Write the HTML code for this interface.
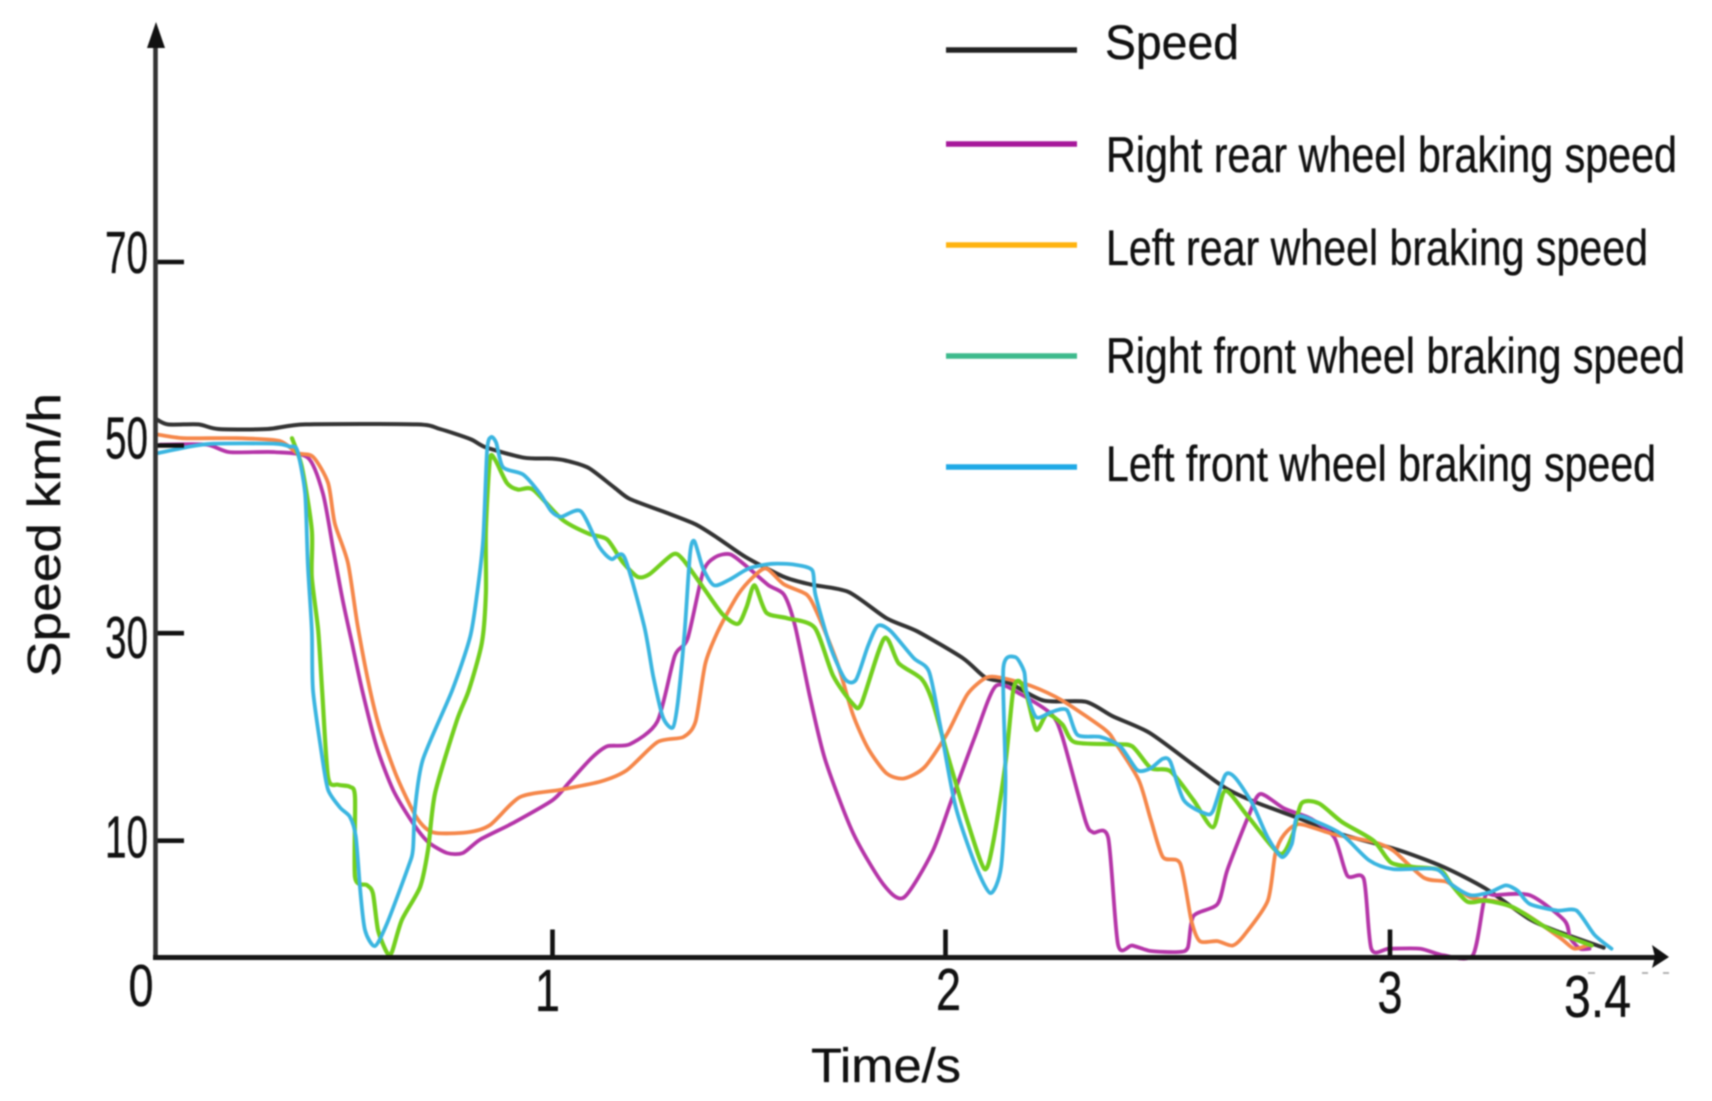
<!DOCTYPE html>
<html lang="en">
<head>
<meta charset="utf-8">
<title>Speed and wheel braking speed over time</title>
<style>
html,body{margin:0;padding:0;background:#fff;width:1712px;height:1101px;overflow:hidden}
svg{display:block;filter:blur(0.75px)}
text{font-family:"Liberation Sans",Arial,sans-serif;fill:#111;stroke:#111;stroke-width:.35px}
</style>
</head>
<body>
<svg id="chart" xmlns="http://www.w3.org/2000/svg" width="1712" height="1101" viewBox="0 0 1712 1101">
  <rect x="0" y="0" width="1712" height="1101" fill="#fff"/>
  <g id="series" fill="none" stroke-linejoin="round" stroke-linecap="round"></g>
  <g id="axes"></g>
  <line x1="155.5" y1="960" x2="155.5" y2="40" stroke="#333" stroke-width="4.6"/>
  <polygon points="156,22 147,48 165,48" fill="#111"/>
  <line x1="153" y1="957.5" x2="1655" y2="957.5" stroke="#161616" stroke-width="5"/>
  <polygon points="1669,957 1652,945 1655,957 1652,968" fill="#111"/>
  <g stroke="#aaa" stroke-width="1.8">
    <line x1="1588" y1="973" x2="1595" y2="973"/>
    <line x1="1642" y1="973" x2="1648" y2="973"/>
    <line x1="1663" y1="973" x2="1669" y2="973"/>
  </g>
  <text transform="translate(60,677) rotate(-90)" font-size="46" textLength="284" lengthAdjust="spacingAndGlyphs">Speed km/h</text>
  <text x="811" y="1082" font-size="48" textLength="150" lengthAdjust="spacingAndGlyphs">Time/s</text>
  <g>
    <g>
      <line x1="946" y1="50" x2="1077" y2="50" stroke="#222" stroke-width="5.5"/>
      <text x="1105" y="59" font-size="48" textLength="134" lengthAdjust="spacingAndGlyphs">Speed</text>
    </g>
    <g>
      <line x1="946" y1="144" x2="1077" y2="144" stroke="#a6189a" stroke-width="5.5"/>
      <text x="1106" y="172" font-size="50" textLength="571" lengthAdjust="spacingAndGlyphs">Right rear wheel braking speed</text>
    </g>
    <g>
      <line x1="946" y1="245" x2="1077" y2="245" stroke="#ffb30f" stroke-width="5.5"/>
      <text x="1106" y="265" font-size="50" textLength="542" lengthAdjust="spacingAndGlyphs">Left rear wheel braking speed</text>
    </g>
    <g>
      <line x1="946" y1="356" x2="1077" y2="356" stroke="#3dba8c" stroke-width="5.5"/>
      <text x="1106" y="373" font-size="50" textLength="579" lengthAdjust="spacingAndGlyphs">Right front wheel braking speed</text>
    </g>
    <g>
      <line x1="946" y1="467" x2="1077" y2="467" stroke="#1fa9e6" stroke-width="5.5"/>
      <text x="1106" y="481" font-size="50" textLength="550" lengthAdjust="spacingAndGlyphs">Left front wheel braking speed</text>
    </g>
  </g>
</svg>
<script>
const xTickValues = [1, 2, 3];
const yTickValues = [10, 30, 50, 70];
const xLabelValues = [0, 1, 2, 3, 3.4];
const xLabelText = ['0', '1', '2', '3', '3.4'];
const yLabelText = ['10', '30', '50', '70'];

const speedT = [0,.03,.107,.157,.281,.377,.658,.716,.793,.832,.928,.997,1.033,1.092,1.158,1.197,1.286,1.364,1.422,1.492,1.589,1.656,1.753,1.85,1.928,2.039,2.091,2.143,2.221,2.315,2.376,2.459,2.558,2.629,2.698,2.786,2.892,3.013,3.102,3.183,3.267,3.325,3.408];
const speedV = [52.9,52.3,52.3,51.8,51.8,52.3,52.3,51.8,50.7,49.8,48.7,48.6,48.4,47.6,45.5,44.3,42.9,41.6,40.1,38.1,36.0,35.2,34.4,31.6,30.2,27.6,25.7,25.2,23.5,23.4,22.0,20.4,17.3,15.1,13.7,12.3,10.6,9.25,7.76,5.89,3.27,2.15,.84];

const rightRearT = [.011,.127,.185,.3,.383,.421,.446,.469,.494,.52,.557,.598,.648,.686,.734,.774,.817,.9,1.0,1.042,1.1,1.139,1.197,1.267,1.311,1.344,1.383,1.414,1.453,1.5,1.55,1.589,1.617,1.656,1.694,1.764,1.842,1.894,1.967,2.015,2.066,2.113,2.17,2.238,2.263,2.315,2.332,2.366,2.388,2.42,2.462,2.523,2.545,2.558,2.612,2.634,2.681,2.708,2.762,2.823,2.875,2.904,2.941,2.958,2.998,3.058,3.102,3.158,3.181,3.2,3.267,3.333,3.344,3.363,3.381];
const rightRearV = [50.1,50.1,49.3,49.3,48.7,44.9,39.2,33.9,29.1,24.5,19.0,14.9,11.7,9.9,8.95,8.95,10.1,11.7,13.9,15.6,18.0,19.1,19.3,21.5,27.8,29.5,36.5,38.1,38.4,36.9,35.1,34.1,30.8,23.7,17.8,10.8,6.26,5.14,9.07,14.1,20.0,24.9,24.1,22.2,20.0,11.9,10.8,10.28,1.12,1.03,.56,.47,.84,3.55,4.58,7.48,12.3,14.5,13.1,12.1,10.3,7.0,6.73,.75,.75,.75,.19,.19,5.14,5.33,5.33,3.18,1.68,.75,.75];

const leftRearT = [.003,.069,.204,.311,.356,.396,.434,.451,.484,.509,.54,.565,.608,.658,.699,.784,.842,.918,1.019,1.122,1.189,1.267,1.333,1.364,1.389,1.422,1.472,1.511,1.544,1.589,1.647,1.675,1.725,1.764,1.803,1.85,1.894,1.947,2.005,2.049,2.091,2.125,2.194,2.263,2.359,2.383,2.435,2.462,2.489,2.528,2.553,2.572,2.612,2.646,2.673,2.725,2.742,2.762,2.796,2.875,2.963,3.006,3.065,3.11,3.154,3.206,3.258,3.325,3.352,3.381];
const leftRearV = [51.2,50.8,50.8,50.5,49.2,48.8,46.0,41.7,37.5,30.7,24.5,20.7,16.1,12.2,10.8,10.8,11.5,14.2,14.9,15.7,16.8,19.5,20.0,21.5,27.1,30.3,34.1,36.0,36.9,35.2,34.1,32.0,27.1,22.2,18.9,16.5,16.0,17.1,20.4,24.1,25.7,25.7,24.9,23.5,20.7,19.4,15.8,12.0,8.6,8.04,3.18,1.4,1.4,1.03,1.96,4.86,8.88,10.6,11.6,10.6,9.9,9.16,6.82,6.45,5.14,4.77,3.74,1.68,.75,1.12];

const rightFrontT = [.343,.368,.393,.393,.409,.419,.434,.459,.489,.502,.502,.532,.547,.56,.583,.595,.62,.666,.686,.704,.759,.789,.822,.832,.832,.842,.855,.885,.913,.951,1.025,1.092,1.139,1.178,1.217,1.247,1.306,1.331,1.383,1.433,1.472,1.494,1.514,1.544,1.597,1.667,1.714,1.764,1.786,1.844,1.881,1.939,1.967,2.005,2.049,2.088,2.108,2.135,2.152,2.165,2.182,2.204,2.229,2.263,2.29,2.376,2.42,2.462,2.506,2.558,2.602,2.629,2.681,2.752,2.781,2.801,2.84,2.892,2.963,3.002,3.044,3.096,3.117,3.148,3.183,3.235,3.304,3.385];
const rightFrontV = [50.8,47.7,41.0,36.0,30.3,24.5,16.1,15.4,15.2,14.2,6.89,6.2,5.5,2.35,.39,.47,3.2,6.04,9.2,14.6,21.6,24.5,29.1,34.3,41.0,48.5,48.5,46.0,45.3,45.3,42.1,40.6,40.0,37.6,36.0,36.3,38.4,37.9,34.9,32.0,31.0,32.8,35.1,32.2,31.6,30.6,25.9,23.2,23.2,29.5,27.1,25.6,23.4,18.2,11.9,7.57,10.0,17.5,24.4,25.4,24.1,20.7,22.2,21.2,19.5,19.3,19.1,17.0,16.7,13.9,11.3,14.8,12.3,8.88,10.6,13.6,13.6,11.8,10.0,8.13,7.76,7.48,6.26,4.77,4.86,4.3,2.43,1.03];

const leftFrontT = [.006,.088,.146,.3,.336,.356,.376,.383,.393,.396,.419,.434,.464,.489,.504,.515,.527,.552,.583,.636,.648,.653,.673,.747,.792,.81,.825,.835,.845,.858,.875,.926,.968,.997,1.022,1.072,1.119,1.15,1.183,1.233,1.256,1.281,1.306,1.319,1.336,1.35,1.361,1.383,1.411,1.45,1.5,1.558,1.617,1.661,1.669,1.706,1.744,1.772,1.803,1.828,1.861,1.919,1.958,1.986,2.022,2.066,2.101,2.125,2.135,2.13,2.157,2.177,2.182,2.204,2.238,2.273,2.297,2.349,2.393,2.432,2.462,2.489,2.506,2.536,2.585,2.602,2.629,2.651,2.69,2.725,2.757,2.779,2.791,2.83,2.892,2.953,3.006,3.088,3.117,3.154,3.192,3.221,3.244,3.267,3.319,3.356,3.39,3.423];
const leftFrontV = [49.2,49.9,50.2,50.2,49.9,49.5,44.9,37.2,30.3,24.5,18.1,14.9,13.2,12.3,10.4,5.78,2.35,.98,2.95,7.75,9.2,13.0,17.8,24.5,29.6,34.3,39.9,49.5,50.9,50.3,47.7,46.9,44.9,43.0,42.4,43.0,39.2,37.9,38.1,30.8,25.9,21.9,20.9,23.4,30.0,38.5,39.8,36.9,35.1,35.7,36.9,37.4,37.3,36.7,34.1,28.8,25.6,25.5,28.8,30.8,30.2,27.6,26.3,21.2,13.4,8.04,5.51,7.76,15.6,26.6,27.7,26.3,24.4,21.9,22.4,22.6,20.2,20.0,19.1,16.8,17.0,17.9,17.6,13.9,12.6,12.9,16.3,16.1,13.6,10.3,8.6,9.72,12.3,11.9,10.6,8.32,7.57,7.57,6.26,5.33,5.61,6.17,5.7,4.58,4.02,4.02,1.96,.75];

const SVG_NS = 'http://www.w3.org/2000/svg';

function piecewise(domain, range) {
  return function (value) {
    let i = 0;
    while (i < domain.length - 2 && value > domain[i + 1]) i++;
    const f = (value - domain[i]) / (domain[i + 1] - domain[i]);
    return range[i] + f * (range[i + 1] - range[i]);
  };
}
const xScale = piecewise([0, 1, 2, 3, 3.4], [156, 552.5, 945.5, 1390, 1599.5]);
const yScale = piecewise([0, 10, 30, 50, 70], [957.5, 840.7, 633.2, 445.5, 262]);

function smoothPath(ts, vs) {
  const p = ts.map(function (t, i) { return [xScale(t), yScale(vs[i])]; });
  let d = 'M' + p[0][0].toFixed(1) + ' ' + p[0][1].toFixed(1);
  for (let i = 0; i < p.length - 1; i++) {
    const a = p[Math.max(i - 1, 0)], b = p[i], c = p[i + 1], e = p[Math.min(i + 2, p.length - 1)];
    const c1x = b[0] + (c[0] - a[0]) / 8, c1y = b[1] + (c[1] - a[1]) / 8;
    const c2x = c[0] - (e[0] - b[0]) / 8, c2y = c[1] - (e[1] - b[1]) / 8;
    d += 'C' + c1x.toFixed(1) + ' ' + c1y.toFixed(1) + ' ' + c2x.toFixed(1) + ' ' + c2y.toFixed(1) + ' ' + c[0].toFixed(1) + ' ' + c[1].toFixed(1);
  }
  return d;
}

const seriesGroup = document.getElementById('series');
const axesGroup = document.getElementById('axes');

const speedPath = document.createElementNS(SVG_NS, 'path');


speedPath.setAttribute('d', smoothPath(speedT, speedV));
speedPath.setAttribute('stroke', '#333333');
speedPath.setAttribute('stroke-width', '4');
seriesGroup.appendChild(speedPath);

const rightRearPath = document.createElementNS(SVG_NS, 'path');


rightRearPath.setAttribute('d', smoothPath(rightRearT, rightRearV));
rightRearPath.setAttribute('stroke', '#b535a8');
rightRearPath.setAttribute('stroke-width', '3.8');
seriesGroup.appendChild(rightRearPath);

const leftRearPath = document.createElementNS(SVG_NS, 'path');


leftRearPath.setAttribute('d', smoothPath(leftRearT, leftRearV));
leftRearPath.setAttribute('stroke', '#f5874a');
leftRearPath.setAttribute('stroke-width', '3.8');
seriesGroup.appendChild(leftRearPath);

const rightFrontPath = document.createElementNS(SVG_NS, 'path');


rightFrontPath.setAttribute('d', smoothPath(rightFrontT, rightFrontV));
rightFrontPath.setAttribute('stroke', '#72cf1e');
rightFrontPath.setAttribute('stroke-width', '4.2');
seriesGroup.appendChild(rightFrontPath);

const leftFrontPath = document.createElementNS(SVG_NS, 'path');


leftFrontPath.setAttribute('d', smoothPath(leftFrontT, leftFrontV));
leftFrontPath.setAttribute('stroke', '#3ab5e0');
leftFrontPath.setAttribute('stroke-width', '3.8');
seriesGroup.appendChild(leftFrontPath);

xTickValues.forEach(function (value) {
  const tick = document.createElementNS(SVG_NS, 'line');
  
  
  tick.setAttribute('x1', xScale(value));
  tick.setAttribute('x2', xScale(value));
  tick.setAttribute('y1', yScale(0));
  tick.setAttribute('y2', yScale(0) - 28);
  tick.setAttribute('stroke', '#111');
  tick.setAttribute('stroke-width', '4.6');
  axesGroup.appendChild(tick);
});

yTickValues.forEach(function (value) {
  const tick = document.createElementNS(SVG_NS, 'line');
  
  
  tick.setAttribute('x1', 156);
  tick.setAttribute('x2', 184);
  tick.setAttribute('y1', yScale(value));
  tick.setAttribute('y2', yScale(value));
  tick.setAttribute('stroke', '#111');
  tick.setAttribute('stroke-width', '4.6');
  axesGroup.appendChild(tick);
});

const xLabelNudge = [-15, -5, 3, 0, -2];
const xLabelBaseline = [1006, 1011, 1010, 1013, 1017];
xLabelValues.forEach(function (value, i) {
  const label = document.createElementNS(SVG_NS, 'text');
  
  
  label.setAttribute('x', xScale(value) + xLabelNudge[i]);
  label.setAttribute('y', xLabelBaseline[i]);
  label.setAttribute('font-size', '59');
  label.setAttribute('text-anchor', 'middle');
  label.setAttribute('textLength', i === 4 ? 67 : 25);
  label.setAttribute('lengthAdjust', 'spacingAndGlyphs');
  label.textContent = xLabelText[i];
  axesGroup.appendChild(label);
});

const yLabelNudge = [17, 25, 13, 11];
yTickValues.forEach(function (value, i) {
  const label = document.createElementNS(SVG_NS, 'text');
  
  
  label.setAttribute('x', 105);
  label.setAttribute('y', yScale(value) + yLabelNudge[i]);
  label.setAttribute('font-size', '59');
  label.setAttribute('textLength', '43');
  label.setAttribute('lengthAdjust', 'spacingAndGlyphs');
  label.textContent = yLabelText[i];
  axesGroup.appendChild(label);
});
</script>
</body>
</html>
